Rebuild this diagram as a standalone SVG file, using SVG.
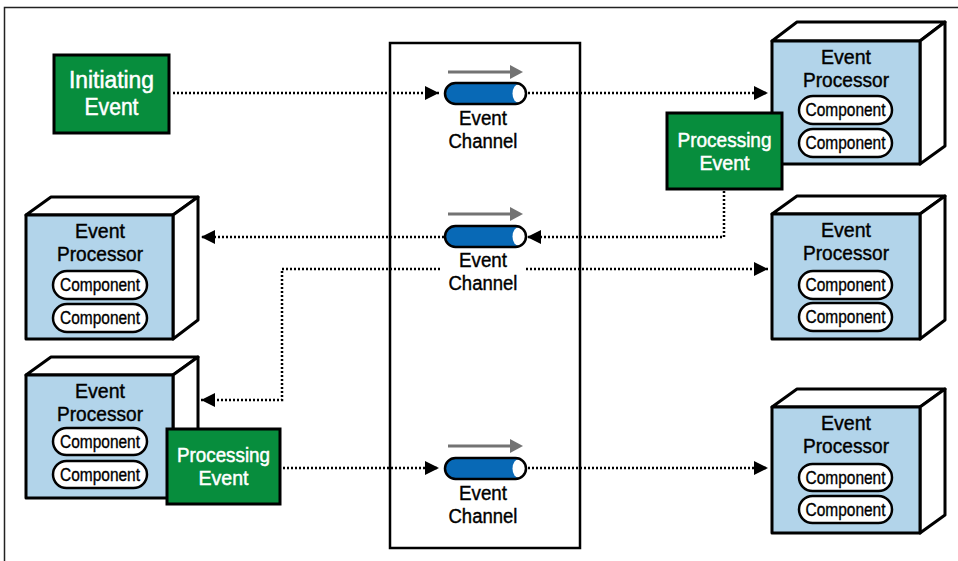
<svg xmlns="http://www.w3.org/2000/svg" width="958" height="561" viewBox="0 0 958 561">
<defs>
<style>
.frame{stroke:#222;stroke-width:1.5;fill:none}
.bus{fill:#fff;stroke:#000;stroke-width:2.5}
.green{fill:#078d3d;stroke:#000;stroke-width:3}
.gt{font-family:"Liberation Sans",Arial,sans-serif;font-size:20.5px;fill:#fff;stroke:#fff;stroke-width:0.5;text-anchor:middle}
.bt{font-family:"Liberation Sans",Arial,sans-serif;font-size:20px;fill:#000;stroke:#000;stroke-width:0.4;text-anchor:middle}
.ct{font-family:"Liberation Sans",Arial,sans-serif;font-size:18px;fill:#000;stroke:#000;stroke-width:0.35;text-anchor:middle}
.front{fill:#b2d4ea;stroke:#000;stroke-width:3;stroke-linejoin:round}
.side{fill:#fff;stroke:#000;stroke-width:3;stroke-linejoin:round}
.pill{fill:#fff;stroke:#000;stroke-width:2.5}
.cyl{fill:#0869b6;stroke:none}
.cylo{fill:none;stroke:#000;stroke-width:2.5}
.cap{fill:#fff}
.flow{stroke:#737373;stroke-width:3;fill:none}
.flowh{fill:#737373}
.dot{fill:none;stroke:#000;stroke-width:2.5;stroke-dasharray:2 2}
</style>
<marker id="ah" viewBox="0 0 14 14" refX="14" refY="7" markerWidth="14" markerHeight="14" markerUnits="userSpaceOnUse" orient="auto">
<path d="M0,0 L14,7 L0,14 z" fill="#000"/>
</marker>
</defs>
<rect width="958" height="561" fill="#fff"/>
<path class="frame" d="M4.5,561 V7.5 H958"/>

<g id="channels-box">
<rect class="bus" x="390" y="43" width="190" height="505"/>
</g>

<g id="connectors">
<path class="dot" d="M173,93 H439" marker-end="url(#ah)"/>
<path class="dot" d="M528,93 H768" marker-end="url(#ah)"/>
<path class="dot" d="M724,191 V237 H527" marker-end="url(#ah)"/>
<path class="dot" d="M444,237 H201" marker-end="url(#ah)"/>
<path class="dot" d="M526,269 H768" marker-end="url(#ah)"/>
<path class="dot" d="M440,269 H282 V400 H201" marker-end="url(#ah)"/>
<path class="dot" d="M283,468 H439" marker-end="url(#ah)"/>
<path class="dot" d="M528,468 H768" marker-end="url(#ah)"/>
</g>

<g id="initiating-event">
<rect class="green" x="54" y="55" width="115" height="78"/>
<text class="gt" x="111.5" y="88" style="font-size:23px" textLength="85" lengthAdjust="spacingAndGlyphs">Initiating</text>
<text class="gt" x="111.5" y="115" style="font-size:23px" textLength="54" lengthAdjust="spacingAndGlyphs">Event</text>
</g>

<g id="channel-1">
<path class="flow" d="M448,72 H512"/>
<path class="flowh" d="M510,65 L523,72 L510,79 z"/>
<rect class="cyl" x="445" y="83" width="81" height="21" rx="10.5"/>
<ellipse class="cap" cx="519" cy="93.5" rx="6.5" ry="9.5"/>
<rect class="cylo" x="445" y="83" width="81" height="21" rx="10.5"/>
<text class="bt" x="483" y="125" textLength="48" lengthAdjust="spacingAndGlyphs">Event</text>
<text class="bt" x="483" y="148" textLength="69" lengthAdjust="spacingAndGlyphs">Channel</text>
</g>

<g id="channel-2">
<path class="flow" d="M448,214 H512"/>
<path class="flowh" d="M510,207 L523,214 L510,221 z"/>
<rect class="cyl" x="445" y="226" width="81" height="21" rx="10.5"/>
<ellipse class="cap" cx="519" cy="236.5" rx="6.5" ry="9.5"/>
<rect class="cylo" x="445" y="226" width="81" height="21" rx="10.5"/>
<text class="bt" x="483" y="267" textLength="48" lengthAdjust="spacingAndGlyphs">Event</text>
<text class="bt" x="483" y="290" textLength="69" lengthAdjust="spacingAndGlyphs">Channel</text>
</g>

<g id="channel-3">
<path class="flow" d="M448,446 H512"/>
<path class="flowh" d="M510,439 L523,446 L510,453 z"/>
<rect class="cyl" x="445" y="458" width="81" height="21" rx="10.5"/>
<ellipse class="cap" cx="519" cy="468.5" rx="6.5" ry="9.5"/>
<rect class="cylo" x="445" y="458" width="81" height="21" rx="10.5"/>
<text class="bt" x="483" y="500" textLength="48" lengthAdjust="spacingAndGlyphs">Event</text>
<text class="bt" x="483" y="523" textLength="69" lengthAdjust="spacingAndGlyphs">Channel</text>
</g>

<g id="event-processor-1">
<path class="side" d="M772,41 L797,22 H945 L920,41 z"/>
<path class="side" d="M920,41 L945,22 V146 L920,164 z"/>
<rect class="front" x="772" y="41" width="148" height="123"/>
<text class="bt" x="846" y="64" textLength="50" lengthAdjust="spacingAndGlyphs">Event</text>
<text class="bt" x="846" y="87" textLength="86" lengthAdjust="spacingAndGlyphs">Processor</text>
<rect class="pill" x="799" y="96" width="93" height="28" rx="14"/>
<text class="ct" x="845.5" y="116" textLength="80" lengthAdjust="spacingAndGlyphs">Component</text>
<rect class="pill" x="799" y="129" width="93" height="28" rx="14"/>
<text class="ct" x="845.5" y="149" textLength="80" lengthAdjust="spacingAndGlyphs">Component</text>
</g>

<g id="processing-event-1">
<rect class="green" x="667" y="113" width="115" height="76"/>
<text class="gt" x="724.5" y="147" textLength="94" lengthAdjust="spacingAndGlyphs">Processing</text>
<text class="gt" x="724.5" y="170" textLength="50" lengthAdjust="spacingAndGlyphs">Event</text>
</g>

<g id="event-processor-2">
<path class="side" d="M26,215 L51,197 H198 L173,215 z"/>
<path class="side" d="M173,215 L198,197 V320 L173,339 z"/>
<rect class="front" x="26" y="215" width="147" height="124"/>
<text class="bt" x="100" y="238" textLength="50" lengthAdjust="spacingAndGlyphs">Event</text>
<text class="bt" x="100" y="261" textLength="86" lengthAdjust="spacingAndGlyphs">Processor</text>
<rect class="pill" x="53" y="271" width="94" height="28" rx="14"/>
<text class="ct" x="100" y="291" textLength="80" lengthAdjust="spacingAndGlyphs">Component</text>
<rect class="pill" x="53" y="304" width="94" height="28" rx="14"/>
<text class="ct" x="100" y="324" textLength="80" lengthAdjust="spacingAndGlyphs">Component</text>
</g>

<g id="event-processor-3">
<path class="side" d="M26,375 L51,357 H198 L173,375 z"/>
<path class="side" d="M173,375 L198,357 V480 L173,498 z"/>
<rect class="front" x="26" y="375" width="147" height="123"/>
<text class="bt" x="100" y="398" textLength="50" lengthAdjust="spacingAndGlyphs">Event</text>
<text class="bt" x="100" y="421" textLength="86" lengthAdjust="spacingAndGlyphs">Processor</text>
<rect class="pill" x="53" y="428" width="94" height="27" rx="13.5"/>
<text class="ct" x="100" y="447.5" textLength="80" lengthAdjust="spacingAndGlyphs">Component</text>
<rect class="pill" x="53" y="461" width="94" height="27" rx="13.5"/>
<text class="ct" x="100" y="480.5" textLength="80" lengthAdjust="spacingAndGlyphs">Component</text>
</g>

<g id="processing-event-2">
<rect class="green" x="167" y="429" width="113" height="75"/>
<text class="gt" x="223.5" y="462" textLength="93" lengthAdjust="spacingAndGlyphs">Processing</text>
<text class="gt" x="223.5" y="485" textLength="50" lengthAdjust="spacingAndGlyphs">Event</text>
</g>

<g id="event-processor-4">
<path class="side" d="M772,214 L797,196 H945 L920,214 z"/>
<path class="side" d="M920,214 L945,196 V320 L920,339 z"/>
<rect class="front" x="772" y="214" width="148" height="125"/>
<text class="bt" x="846" y="237" textLength="50" lengthAdjust="spacingAndGlyphs">Event</text>
<text class="bt" x="846" y="260" textLength="86" lengthAdjust="spacingAndGlyphs">Processor</text>
<rect class="pill" x="799" y="271" width="93" height="28" rx="14"/>
<text class="ct" x="845.5" y="291" textLength="80" lengthAdjust="spacingAndGlyphs">Component</text>
<rect class="pill" x="799" y="303" width="93" height="28" rx="14"/>
<text class="ct" x="845.5" y="323" textLength="80" lengthAdjust="spacingAndGlyphs">Component</text>
</g>

<g id="event-processor-5">
<path class="side" d="M772,407 L797,389 H945 L920,407 z"/>
<path class="side" d="M920,407 L945,389 V515 L920,533 z"/>
<rect class="front" x="772" y="407" width="148" height="126"/>
<text class="bt" x="846" y="430" textLength="50" lengthAdjust="spacingAndGlyphs">Event</text>
<text class="bt" x="846" y="453" textLength="86" lengthAdjust="spacingAndGlyphs">Processor</text>
<rect class="pill" x="799" y="464" width="93" height="27" rx="13.5"/>
<text class="ct" x="845.5" y="483.5" textLength="80" lengthAdjust="spacingAndGlyphs">Component</text>
<rect class="pill" x="799" y="496" width="93" height="27" rx="13.5"/>
<text class="ct" x="845.5" y="515.5" textLength="80" lengthAdjust="spacingAndGlyphs">Component</text>
</g>
</svg>
